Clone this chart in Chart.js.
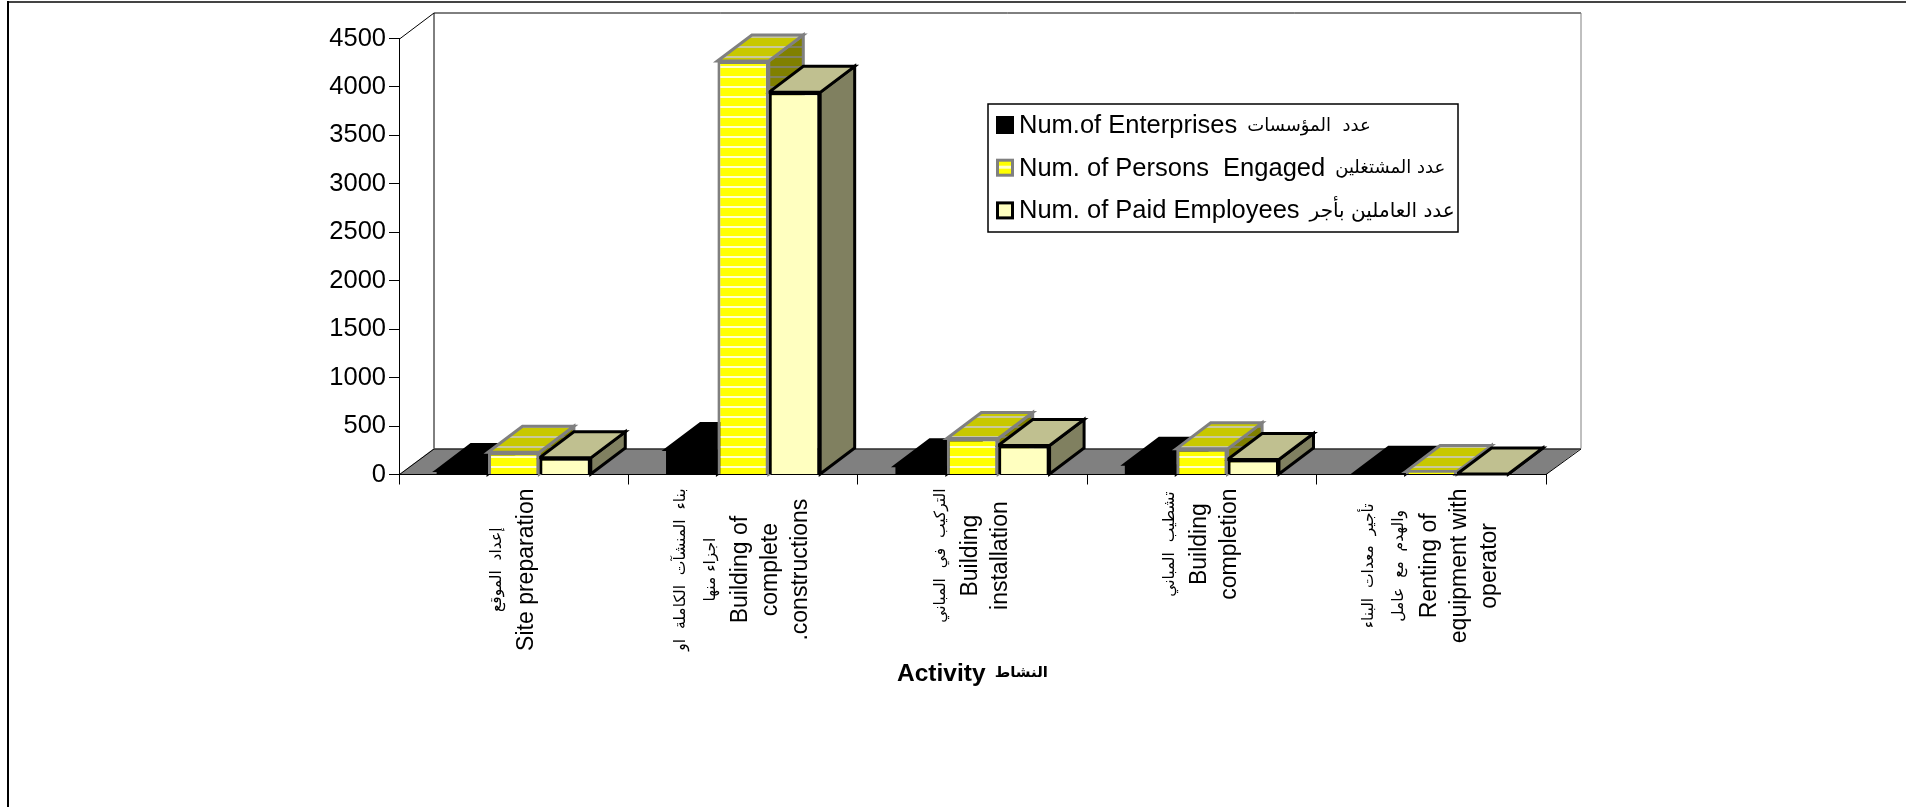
<!DOCTYPE html>
<html lang="ar">

<head>
    <meta charset="UTF-8">
    <title>Activity</title>
    <script src="https://cdn.jsdelivr.net/npm/chart.js"></script>
    <style>
        html, body { margin: 0; padding: 0; background: #fff; }
        #grafico { position: absolute; left: 0; top: 0; width: 1906px; height: 807px; }
    </style>
</head>

<body>
    <div id="grafico"><canvas id="myChartCanvas"></canvas></div>

<script>
    // dados
    const categorias = ["Site preparation", "Building of complete constructions", "Building installation", "Building completion", "Renting of equipment with operator"];
    const rotulos = [
        ["إعداد  الموقع", "Site preparation"],
        ["بناء  المنشآت  الكاملة  او", "اجزاء منها", "Building of", "complete", ".constructions"],
        ["التركيب  في  المباني", "Building", "installation"],
        ["تشطيب  المباني", "Building", "completion"],
        ["تأجير  معدات  البناء", "والهدم  مع  عامل", "Renting of", "equipment with", "operator"]
    ];
    const nomesSeries = ["Num.of Enterprises", "Num. of Persons  Engaged", "Num. of Paid Employees"];
    const nomesArabes = ["عدد  المؤسسات", "عدد المشتغلين", "عدد العاملين بأجر"];
    const empresas = [40, 258, 90, 106, 14];
    const pessoas = [230, 4268, 372, 265, 30];
    const empregados = [172, 3944, 300, 155, 5];
    const ticksY = [0, 500, 1000, 1500, 2000, 2500, 3000, 3500, 4000, 4500];
    const tituloX = "Activity";
    const tituloXArabe = "النشاط";

    const FONTE = '"Liberation Sans", Arial, sans-serif';
    const FONTE_AR = '"DejaVu Sans", sans-serif';
    const DX = 34.5, DY = -26;

    // listras horizontais das barras
    function listras(fundo, linha) {
        const c = document.createElement('canvas');
        c.width = 4; c.height = 10;
        const g = c.getContext('2d');
        g.fillStyle = fundo; g.fillRect(0, 0, 4, 10);
        g.fillStyle = linha; g.fillRect(0, 6, 4, 2);
        return g.createPattern(c, 'repeat');
    }

    const faces = [
        { topo: '#000000', lado: '#000000', borda: '#000000' },
        { topo: listras('#C8C800', '#C8C8A0'), lado: listras('#808000', '#808060'), borda: '#808080' },
        { topo: '#C0C090', lado: '#808060', borda: '#000000' }
    ];

    function poligono(ctx, pts, fundo, borda, larg) {
        ctx.beginPath();
        pts.forEach((p, i) => i ? ctx.lineTo(p[0], p[1]) : ctx.moveTo(p[0], p[1]));
        ctx.closePath();
        if (fundo) { ctx.fillStyle = fundo; ctx.fill(); }
        if (borda) { ctx.strokeStyle = borda; ctx.lineWidth = larg; ctx.lineJoin = 'miter'; ctx.stroke(); }
    }

    // paredes, piso e faces 3D das barras
    const fundo3d = {
        id: 'fundo3d',
        beforeDraw(chart) {
            const { ctx, chartArea: a } = chart;
            ctx.save();
            // moldura da pagina
            ctx.fillStyle = '#444'; ctx.fillRect(7, 1, 1899, 2);
            ctx.fillStyle = '#000'; ctx.fillRect(7, 1, 2, 806);
            // parede esquerda e fundo
            poligono(ctx, [[a.left + DX, a.top + DY], [a.right + DX, a.top + DY], [a.right + DX, a.bottom + DY], [a.left + DX, a.bottom + DY]], '#fff', null);
            ctx.strokeStyle = '#000'; ctx.lineWidth = 1;
            ctx.beginPath();
            ctx.moveTo(a.left + .5, a.top + .5); ctx.lineTo(a.left + DX + .5, a.top + DY + .5);
            ctx.lineTo(a.right + DX + .5, a.top + DY + .5);
            ctx.moveTo(a.left + DX + .5, a.top + DY + .5); ctx.lineTo(a.left + DX + .5, a.bottom + DY);
            ctx.stroke();
            ctx.strokeStyle = '#808080';
            ctx.beginPath();
            ctx.moveTo(a.right + DX + .5, a.top + DY + .5); ctx.lineTo(a.right + DX + .5, a.bottom + DY);
            ctx.stroke();
            // piso
            poligono(ctx, [[a.left, a.bottom], [a.left + DX, a.bottom + DY], [a.right + DX, a.bottom + DY], [a.right, a.bottom]], '#808080', null);
            ctx.strokeStyle = '#000'; ctx.lineWidth = 1;
            ctx.beginPath();
            ctx.moveTo(a.left + .5, a.bottom); ctx.lineTo(a.left + DX + .5, a.bottom + DY + .5);
            ctx.lineTo(a.right + DX + .5, a.bottom + DY + .5);
            ctx.lineTo(a.right, a.bottom);
            ctx.stroke();
            ctx.restore();
        },
        beforeDatasetsDraw(chart) {
            const ctx = chart.ctx;
            ctx.save();
            chart.data.datasets.forEach((ds, d) => {
                chart.getDatasetMeta(d).data.forEach(bar => {
                    const p = bar.getProps(['x', 'y', 'base', 'width'], true);
                    const esq = p.x - p.width / 2, dir = p.x + p.width / 2;
                    const f = faces[d];
                    poligono(ctx, [[dir, p.base], [dir + DX, p.base + DY], [dir + DX, p.y + DY], [dir, p.y]], f.lado, f.borda, 3);
                    poligono(ctx, [[esq, p.y], [esq + DX, p.y + DY], [dir + DX, p.y + DY], [dir, p.y]], f.topo, f.borda, 3);
                });
            });
            ctx.restore();
        }
    };

    function fonteLinha(l) {
        return /[\u0600-\u06FF]/.test(l) ? '15.5px ' + FONTE_AR : '23px ' + FONTE;
    }

    // rotulos do eixo X (centralizados e girados), titulo e legenda
    const textos = {
        id: 'textos',
        afterDraw(chart) {
            const { ctx, chartArea: a } = chart;
            const x = chart.scales.x;
            ctx.save();
            rotulos.forEach((linhas, i) => {
                const cx = x.getPixelForValue(i) - 2;
                const larguras = linhas.map(l => {
                    ctx.font = fonteLinha(l);
                    return ctx.measureText(l).width;
                });
                const maior = Math.max(...larguras);
                linhas.forEach((l, j) => {
                    ctx.save();
                    ctx.translate(cx + (j - (linhas.length - 1) / 2) * 30, a.bottom + 14 + maior / 2);
                    ctx.rotate(-Math.PI / 2);
                    ctx.font = fonteLinha(l);
                    ctx.fillStyle = '#000';
                    ctx.textAlign = 'center';
                    ctx.textBaseline = 'middle';
                    ctx.fillText(l, 0, 0);
                    ctx.restore();
                });
            });

            // titulo do eixo X
            ctx.fillStyle = '#000';
            ctx.textBaseline = 'middle';
            ctx.textAlign = 'left';
            ctx.font = 'bold 24.5px ' + FONTE;
            ctx.fillText(tituloX, 897, 674);
            ctx.font = 'bold 15px ' + FONTE_AR;
            ctx.textAlign = 'right';
            ctx.fillText(tituloXArabe, 1048, 673);

            // legenda
            ctx.fillStyle = '#fff'; ctx.fillRect(988, 104, 470, 128);
            ctx.strokeStyle = '#000'; ctx.lineWidth = 1.5;
            ctx.strokeRect(988, 104, 470, 128);
            nomesSeries.forEach((nome, i) => {
                const y = 125 + i * 42.7;
                const f = chart.data.datasets[i];
                ctx.fillStyle = f.borderColor; ctx.fillRect(996, y - 9, 18, 18);
                if (i > 0) {
                    ctx.fillStyle = i === 1 ? '#FFFF00' : '#FFFFC0';
                    ctx.fillRect(999, y - 6, 12, 12);
                }
                if (i === 1) { ctx.fillStyle = '#FFFFCC'; ctx.fillRect(999, y - 2, 12, 3); }
                ctx.fillStyle = '#000';
                ctx.textAlign = 'left';
                ctx.textBaseline = 'middle';
                ctx.font = '25.5px ' + FONTE;
                ctx.fillText(nome, 1019, y + 1);
                const fimLatim = ctx.measureText(nome).width + 1019;
                ctx.font = (i === 2 ? '20px ' : '18px ') + FONTE_AR;
                ctx.fillText(nomesArabes[i], fimLatim + 10, y + 1);
            });
            ctx.restore();
        }
    };

    const config = {
        type: 'bar',
        data: {
            labels: categorias,
            datasets: [
                { label: nomesSeries[0], data: empresas, backgroundColor: '#000000', borderColor: '#000000', borderWidth: 0 },
                { label: nomesSeries[1], data: pessoas, backgroundColor: listras('#FFFF00', '#FFFFCC'), borderColor: '#808080', borderWidth: 3 },
                { label: nomesSeries[2], data: empregados, backgroundColor: '#FFFFC0', borderColor: '#000000', borderWidth: 3 }
            ]
        },
        options: {
            responsive: true,
            maintainAspectRatio: false,
            animation: false,
            categoryPercentage: 0.672,
            barPercentage: 1,
            layout: { padding: { left: 0, top: 38.5, right: 360, bottom: 117.5 } },
            plugins: { legend: { display: false }, tooltip: { enabled: false } },
            scales: {
                x: {
                    afterFit: s => { s.height = 215; },
                    grid: { color: '#000', drawOnChartArea: false, tickLength: 10 },
                    border: { color: '#000' },
                    ticks: { display: false }
                },
                y: {
                    min: 0,
                    max: 4500,
                    afterFit: s => { s.width = 399; },
                    afterBuildTicks: s => { s.ticks = ticksY.map(v => ({ value: v })); },
                    grid: { color: '#000', drawOnChartArea: false, tickLength: 10 },
                    border: { color: '#000' },
                    ticks: { color: '#000', padding: 3, font: { family: FONTE, size: 25.5 }, callback: v => String(v) }
                }
            }
        },
        plugins: [fundo3d, textos]
    };

    let myChart = new Chart(document.getElementById('myChartCanvas'), config);
</script>
</body>

</html>
